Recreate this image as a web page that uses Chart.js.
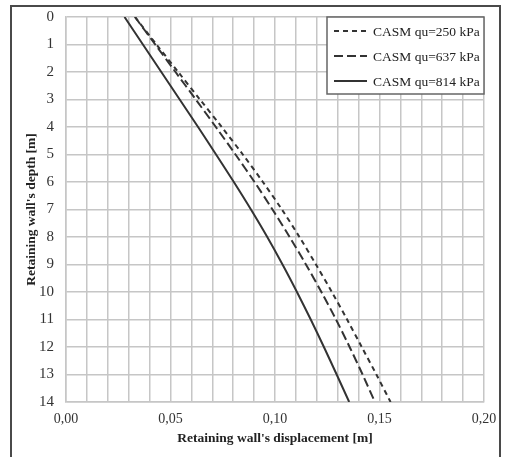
<!DOCTYPE html>
<html>
<head>
<meta charset="utf-8">
<script src="https://cdn.jsdelivr.net/npm/chart.js@4/dist/chart.umd.min.js"></script>
<style>
  html, body { margin: 0; padding: 0; background: #fff; }
  body { width: 511px; height: 457px; position: relative; overflow: hidden; }
  #frame {
    position: absolute; left: 10px; top: 5px; width: 487px; height: 470px;
    border: 2px solid #4a4a4a;
  }
  #wrap { position: absolute; left: 0; top: 0; width: 511px; height: 457px; }
</style>
</head>
<body>
<div id="frame"></div>
<div id="wrap"><canvas id="chart" width="511" height="457"></canvas></div>
<script>
// depth below top of wall [m]
const depths = [0, 1, 2, 3, 4, 5, 6, 7, 8, 9, 10, 11, 12, 13, 14];
// horizontal displacement [m]
const disp250 = [0.033, 0.0433, 0.0537, 0.0641, 0.0745, 0.0846, 0.0942, 0.1033, 0.1117, 0.1196, 0.1272, 0.1345, 0.1415, 0.1485, 0.1553];
const disp637 = [0.033, 0.0427, 0.0524, 0.0621, 0.0717, 0.0811, 0.0902, 0.0988, 0.107, 0.1148, 0.1222, 0.1292, 0.1357, 0.1419, 0.1478];
const disp814 = [0.028, 0.0368, 0.0456, 0.0544, 0.0632, 0.0718, 0.0803, 0.0885, 0.0963, 0.1036, 0.1105, 0.1171, 0.1234, 0.1295, 0.1355];
const seriesLabels = ['CASM qu=250 kPa', 'CASM qu=637 kPa', 'CASM qu=814 kPa'];
const xTickLabels = ['0,00', '0,05', '0,10', '0,15', '0,20'];

const serif = "'Liberation Serif', 'Times New Roman', serif";
const lineColor = '#333';
const gridColor = '#c6c6c6';

const toPoints = arr => arr.map((v, i) => ({ x: v, y: depths[i] }));

// legend box drawn inside the plot, top-right
const boxLegend = {
  id: 'boxLegend',
  afterDraw(chart) {
    const ctx = chart.ctx;
    const area = chart.chartArea;
    const w = 157, h = 77;
    const x = area.right - w, y = area.top;
    ctx.save();
    ctx.fillStyle = '#fff';
    ctx.fillRect(x, y, w, h);
    ctx.strokeStyle = '#666';
    ctx.lineWidth = 1.5;
    ctx.strokeRect(x, y, w, h);
    ctx.font = '13.5px ' + serif;
    ctx.textBaseline = 'middle';
    ctx.fillStyle = '#222';
    chart.data.datasets.forEach((ds, i) => {
      const ry = y + 14 + i * 25;
      ctx.beginPath();
      ctx.setLineDash(ds.borderDash || []);
      ctx.strokeStyle = ds.borderColor;
      ctx.lineWidth = ds.borderWidth;
      ctx.moveTo(x + 7, ry);
      ctx.lineTo(x + 40, ry);
      ctx.stroke();
      ctx.setLineDash([]);
      ctx.fillText(ds.label, x + 46, ry + 1);
    });
    ctx.restore();
  }
};

document.addEventListener("DOMContentLoaded", () => {
  const ctx = document.getElementById("chart").getContext("2d");

  new Chart(ctx, {
    type: 'scatter',
    data: {
      datasets: [
        { label: seriesLabels[0], data: toPoints(disp250), borderDash: [5, 4] },
        { label: seriesLabels[1], data: toPoints(disp637), borderDash: [9, 4] },
        { label: seriesLabels[2], data: toPoints(disp814), borderDash: [] }
      ].map(ds => Object.assign(ds, {
        showLine: true,
        borderColor: lineColor,
        backgroundColor: lineColor,
        borderWidth: 2,
        pointRadius: 0,
        tension: 0.3
      }))
    },
    options: {
      responsive: false,
      animation: false,
      layout: { padding: { top: 17, right: 27, left: 0, bottom: 0 } },
      plugins: {
        legend: { display: false },
        tooltip: { enabled: false }
      },
      scales: {
        x: {
          type: 'linear',
          min: 0, max: 0.2,
          afterFit: s => { s.height = 55; },
          grid: { color: gridColor, lineWidth: 1.5, drawTicks: false },
          border: { color: gridColor, width: 1.5 },
          ticks: {
            stepSize: 0.01,
            autoSkip: false,
            maxRotation: 0,
            padding: 9,
            color: '#333',
            font: { family: serif, size: 14 },
            callback: v => {
              const k = Math.round(v * 100);
              return k % 5 === 0 ? xTickLabels[k / 5] : '';
            }
          },
          title: {
            display: true,
            text: "Retaining wall's displacement [m]",
            color: '#222',
            font: { family: serif, size: 13.5, weight: 'bold' },
            padding: { top: 0, bottom: 10 }
          }
        },
        y: {
          type: 'linear',
          reverse: true,
          min: 0, max: 14,
          afterFit: s => { s.width = 66; s.paddingTop = 0; s.paddingBottom = 0; },
          grid: { color: gridColor, lineWidth: 1.5, drawTicks: false },
          border: { color: gridColor, width: 1.5 },
          ticks: {
            stepSize: 1,
            autoSkip: false,
            padding: 12,
            color: '#333',
            font: { family: serif, size: 15 }
          },
          title: {
            display: true,
            text: "Retaining wall's depth [m]",
            color: '#222',
            font: { family: serif, size: 13.5, weight: 'bold' },
            padding: { top: 23, bottom: 0 }
          }
        }
      }
    },
    plugins: [boxLegend]
  });
});
</script>
</body>
</html>
